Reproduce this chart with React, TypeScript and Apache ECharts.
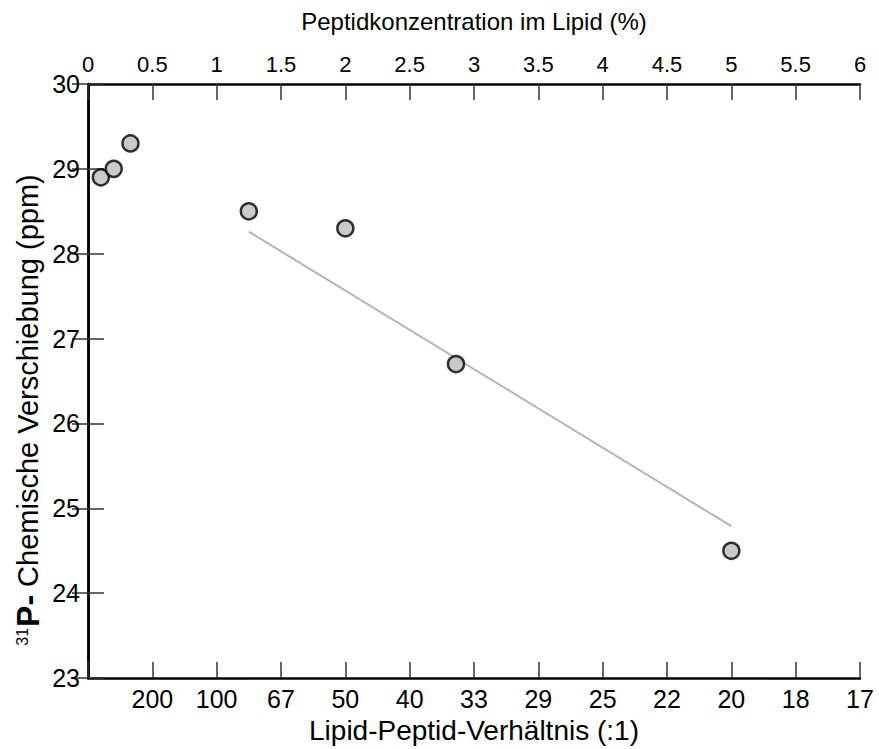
import React, { useEffect, useRef } from "react";
import * as echarts from "echarts";

const concentration = [0.1, 0.2, 0.33, 1.25, 2.0, 2.86, 5.0];
const chemicalShift = [28.9, 29.0, 29.3, 28.5, 28.3, 26.7, 24.5];
const fitX = [1.25, 5.0];
const fitY = [28.26, 24.79];
const ratioLabels = ["", "200", "100", "67", "50", "40", "33", "29", "25", "22", "20", "18", "17"];

const FONT = "'Liberation Sans', Arial, Helvetica, sans-serif";

export default function App() {
  const ref = useRef<HTMLDivElement>(null);
  useEffect(() => {
    if (!ref.current) return;
    const chart = echarts.init(ref.current, undefined, { renderer: "svg" });
    const axisLine = { show: true, lineStyle: { color: "#000", width: 2.5 } };
    const tick = { show: true, inside: true, length: 16, lineStyle: { color: "#333", width: 1.5 } };
    chart.setOption({
      animation: false,
      backgroundColor: "#fff",
      textStyle: { fontFamily: FONT },
      grid: { left: 88, right: 19, top: 84, bottom: 64, containLabel: false },
      graphic: [
        {
          type: "text",
          x: 28,
          y: 410,
          rotation: Math.PI / 2,
          style: {
            text: "{sup|31}{p|P-} Chemische Verschiebung (ppm)",
            fill: "#000",
            fontSize: 29,
            fontFamily: FONT,
            align: "center",
            verticalAlign: "middle",
            rich: {
              sup: { fontSize: 16, fontFamily: FONT, fill: "#000", padding: [0, 1, 12, 0] },
              p: { fontSize: 32, fontWeight: "bold", fontFamily: FONT, fill: "#000" },
            },
          },
        },
      ],
      xAxis: [
        {
          type: "value",
          position: "top",
          min: 0,
          max: 6,
          interval: 0.5,
          axisLine,
          axisTick: tick,
          splitLine: { show: false },
          axisLabel: { color: "#000", fontSize: 22, margin: 9, fontFamily: FONT },
          name: "Peptidkonzentration im Lipid (%)",
          nameLocation: "middle",
          nameGap: 51,
          nameTextStyle: { color: "#000", fontSize: 24, fontFamily: FONT },
        },
        {
          type: "value",
          position: "bottom",
          min: 0,
          max: 6,
          interval: 0.5,
          axisLine,
          axisTick: tick,
          splitLine: { show: false },
          axisLabel: {
            color: "#000",
            fontSize: 25,
            margin: 8,
            fontFamily: FONT,
            formatter: (v: number) => ratioLabels[Math.round(v * 2)] ?? "",
          },
          name: "Lipid-Peptid-Verhältnis (:1)",
          nameLocation: "middle",
          nameGap: 32,
          nameTextStyle: { color: "#000", fontSize: 28, fontFamily: FONT },
        },
      ],
      yAxis: [
        {
          type: "value",
          position: "left",
          min: 23,
          max: 30,
          interval: 1,
          axisLine,
          axisTick: tick,
          splitLine: { show: false },
          axisLabel: { color: "#000", fontSize: 25, margin: 8, fontFamily: FONT },
        },
        {
          type: "value",
          position: "right",
          min: 23,
          max: 30,
          interval: 1,
          axisLine,
          axisTick: tick,
          splitLine: { show: false },
          axisLabel: { show: false },
        },
      ],
      series: [
        {
          type: "line",
          xAxisIndex: 0,
          yAxisIndex: 0,
          data: fitX.map((x, i) => [x, fitY[i]]),
          showSymbol: false,
          symbol: "none",
          lineStyle: { color: "#b4b4b4", width: 2 },
          z: 2,
        },
        {
          type: "scatter",
          xAxisIndex: 0,
          yAxisIndex: 0,
          data: concentration.map((x, i) => [x, chemicalShift[i]]),
          symbol: "circle",
          symbolSize: 16,
          itemStyle: { color: "#bdbdbd", borderColor: "#000", borderWidth: 2.5 },
          z: 3,
        },
      ],
    });
    return () => chart.dispose();
  }, []);
  return <div ref={ref} style={{ width: 879, height: 749, position: "absolute", left: 0, top: 0 }} />;
}
